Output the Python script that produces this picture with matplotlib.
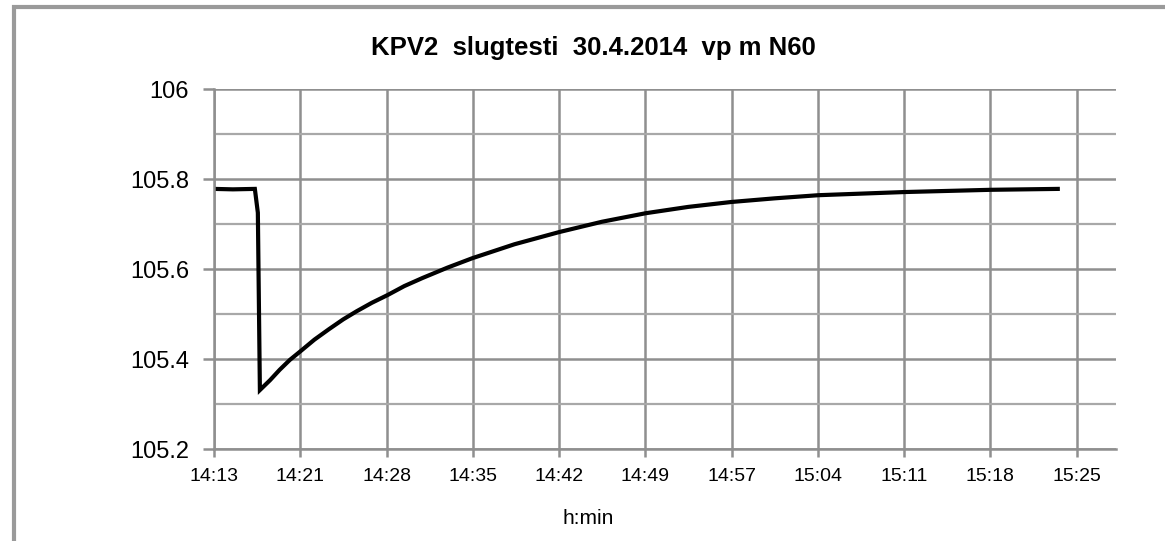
import matplotlib.pyplot as plt
from matplotlib.ticker import FixedLocator, MultipleLocator, FuncFormatter
from matplotlib.patches import Rectangle

plt.rcParams['font.family'] = ['Liberation Sans', 'DejaVu Sans']

# aika minuutteina keskiyöstä, vedenpinta (m N60)
aika_min = [853.92, 855.5, 857.33, 857.58, 857.75, 858.6, 859.4, 860.25, 861.08, 862.3, 863.5,
            864.7, 865.82, 867.1, 868.4, 869.8, 871.32, 873.4, 875.48, 879.0, 882.72, 886.3,
            889.96, 893.5, 897.12, 900.7, 904.36, 911.52, 918.76, 924.34]
vedenpinta = [105.778, 105.777, 105.778, 105.725, 105.331, 105.353, 105.376, 105.398, 105.416,
              105.443, 105.466, 105.488, 105.506, 105.525, 105.542, 105.562, 105.58, 105.603,
              105.624, 105.655, 105.682, 105.705, 105.724, 105.738, 105.749, 105.757, 105.764,
              105.771, 105.776, 105.778]

otsikko = 'KPV2  slugtesti  30.4.2014  vp m N60'
x_min, x_max = 853.92, 929.2
x_ticks = [x_min + 7.2 * i for i in range(11)]
y_min, y_max = 105.2, 106.0


def hmin(v, pos=None):
    m = int(v + 1e-6)
    return f'{m // 60}:{m % 60:02d}'


fig = plt.figure(figsize=(11.65, 5.41), dpi=100)
ax = fig.add_axes([214 / 1165, 1 - 449 / 541, (1116 - 214) / 1165, (449 - 89) / 541])

ax.plot(aika_min, vedenpinta, color='black', lw=3, solid_joinstyle='miter')

ax.set_xlim(x_min, x_max)
ax.set_ylim(y_min, y_max)
ax.xaxis.set_major_locator(FixedLocator(x_ticks))
ax.xaxis.set_major_formatter(FuncFormatter(hmin))
ax.yaxis.set_major_locator(MultipleLocator(0.2))
ax.yaxis.set_minor_locator(MultipleLocator(0.1))
ax.yaxis.set_major_formatter(FuncFormatter(lambda v, p: f'{v:g}'))

grid_c = '#8f8f8f'
ax.grid(True, which='major', color=grid_c, lw=1.8)
ax.grid(True, which='minor', axis='y', color='#a8a8a8', lw=1.6)
ax.set_axisbelow(True)
for s in ['top', 'right']:
    ax.spines[s].set_visible(False)
ax.spines['left'].set_color(grid_c)
ax.spines['bottom'].set_color(grid_c)
ax.spines['left'].set_linewidth(1.8)
ax.spines['bottom'].set_linewidth(1.8)
ax.tick_params(axis='y', which='major', direction='out', length=8, width=1.8,
               color=grid_c, labelsize=17, pad=10, labelcolor='black')
ax.tick_params(axis='y', which='minor', length=0)
ax.tick_params(axis='x', direction='out', length=6, width=1.8, color=grid_c,
               labelsize=14, pad=8, labelcolor='black')

fig.text(593 / 1165, 1 - 48 / 541, otsikko, ha='center', va='center',
         fontsize=18.5, fontweight='bold', color='black')
fig.text(588 / 1165, 1 - 519 / 541, 'h:min', ha='center', va='center',
         fontsize=15, color='black')

# kuvan reunus
fig.patches.append(Rectangle((14 / 1165, -0.05), 1.2, 1 - 7 / 541 + 0.05,
                             transform=fig.transFigure, fill=False,
                             edgecolor='#9a9a9a', lw=3))

fig.savefig('out.png', dpi=100)
